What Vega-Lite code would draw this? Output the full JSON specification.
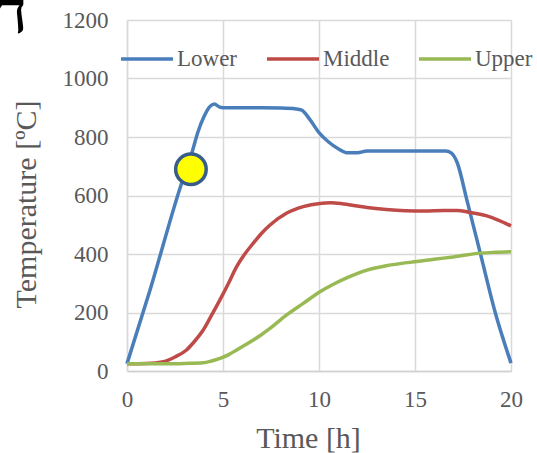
{
  "$schema": "https://vega.github.io/schema/vega-lite/v6.json",
  "width": 384,
  "height": 351,
  "autosize": {"type": "none"},
  "padding": {"left": 127, "top": 20, "right": 26, "bottom": 82},
  "background": "white",
  "title": {"text": "ח", "anchor": "start", "frame": "group", "orient": "top", "font": "Liberation Serif", "fontSize": 66, "fontWeight": "bold", "color": "black", "dx": -138, "dy": 90, "offset": 0, "baseline": "alphabetic"},
  "config": {
    "view": {"stroke": null},
    "font": "Liberation Serif",
    "axis": {"labelFont": "Liberation Serif", "titleFont": "Liberation Serif"},
    "legend": {"labelFont": "Liberation Serif"}
  },
  "layer": [
    {
      "data": {"values": [
        {"series": "Lower", "time": 0, "temp": 25},
        {"series": "Lower", "time": 1.2, "temp": 277},
        {"series": "Lower", "time": 2.76, "temp": 625},
        {"series": "Lower", "time": 3.37, "temp": 744},
        {"series": "Lower", "time": 3.7, "temp": 818},
        {"series": "Lower", "time": 4.0, "temp": 868},
        {"series": "Lower", "time": 4.3, "temp": 903},
        {"series": "Lower", "time": 4.55, "temp": 913},
        {"series": "Lower", "time": 4.8, "temp": 903},
        {"series": "Lower", "time": 5, "temp": 900},
        {"series": "Lower", "time": 6, "temp": 900},
        {"series": "Lower", "time": 7, "temp": 900},
        {"series": "Lower", "time": 8, "temp": 899},
        {"series": "Lower", "time": 8.8, "temp": 896},
        {"series": "Lower", "time": 9.1, "temp": 892},
        {"series": "Lower", "time": 9.5, "temp": 862},
        {"series": "Lower", "time": 10, "temp": 815},
        {"series": "Lower", "time": 10.5, "temp": 783},
        {"series": "Lower", "time": 11, "temp": 760},
        {"series": "Lower", "time": 11.5, "temp": 746},
        {"series": "Lower", "time": 12, "temp": 746},
        {"series": "Lower", "time": 12.5, "temp": 752},
        {"series": "Lower", "time": 13, "temp": 752},
        {"series": "Lower", "time": 14, "temp": 752},
        {"series": "Lower", "time": 15, "temp": 752},
        {"series": "Lower", "time": 16, "temp": 752},
        {"series": "Lower", "time": 16.6, "temp": 752},
        {"series": "Lower", "time": 16.9, "temp": 745},
        {"series": "Lower", "time": 17.2, "temp": 712},
        {"series": "Lower", "time": 17.7, "temp": 585},
        {"series": "Lower", "time": 18.4, "temp": 403},
        {"series": "Lower", "time": 19.2, "temp": 195},
        {"series": "Lower", "time": 20, "temp": 27},
        {"series": "Middle", "time": 0, "temp": 25},
        {"series": "Middle", "time": 1, "temp": 26},
        {"series": "Middle", "time": 1.9, "temp": 32},
        {"series": "Middle", "time": 2.5, "temp": 48},
        {"series": "Middle", "time": 3.1, "temp": 72},
        {"series": "Middle", "time": 3.5, "temp": 100},
        {"series": "Middle", "time": 3.97, "temp": 140},
        {"series": "Middle", "time": 4.4, "temp": 190},
        {"series": "Middle", "time": 4.84, "temp": 243},
        {"series": "Middle", "time": 5.3, "temp": 302},
        {"series": "Middle", "time": 5.71, "temp": 357},
        {"series": "Middle", "time": 6.1, "temp": 397},
        {"series": "Middle", "time": 6.58, "temp": 437},
        {"series": "Middle", "time": 7, "temp": 470},
        {"series": "Middle", "time": 7.45, "temp": 499},
        {"series": "Middle", "time": 8.3, "temp": 539},
        {"series": "Middle", "time": 9.18, "temp": 562},
        {"series": "Middle", "time": 10.05, "temp": 573},
        {"series": "Middle", "time": 10.6, "temp": 575},
        {"series": "Middle", "time": 11.2, "temp": 572},
        {"series": "Middle", "time": 12, "temp": 564},
        {"series": "Middle", "time": 12.5, "temp": 559},
        {"series": "Middle", "time": 13.5, "temp": 552},
        {"series": "Middle", "time": 14.5, "temp": 548},
        {"series": "Middle", "time": 15.5, "temp": 547},
        {"series": "Middle", "time": 16.5, "temp": 549},
        {"series": "Middle", "time": 17.2, "temp": 549},
        {"series": "Middle", "time": 17.8, "temp": 543},
        {"series": "Middle", "time": 18.7, "temp": 531},
        {"series": "Middle", "time": 19.3, "temp": 517},
        {"series": "Middle", "time": 20, "temp": 496},
        {"series": "Upper", "time": 0, "temp": 25},
        {"series": "Upper", "time": 1, "temp": 25},
        {"series": "Upper", "time": 2, "temp": 25},
        {"series": "Upper", "time": 3, "temp": 26},
        {"series": "Upper", "time": 3.97, "temp": 28},
        {"series": "Upper", "time": 4.4, "temp": 34},
        {"series": "Upper", "time": 4.84, "temp": 43},
        {"series": "Upper", "time": 5.3, "temp": 56},
        {"series": "Upper", "time": 5.71, "temp": 72},
        {"series": "Upper", "time": 6.1, "temp": 87},
        {"series": "Upper", "time": 6.58, "temp": 106},
        {"series": "Upper", "time": 7, "temp": 124},
        {"series": "Upper", "time": 7.45, "temp": 146},
        {"series": "Upper", "time": 8.3, "temp": 191},
        {"series": "Upper", "time": 9.18, "temp": 231},
        {"series": "Upper", "time": 10.05, "temp": 271},
        {"series": "Upper", "time": 10.7, "temp": 295},
        {"series": "Upper", "time": 11.5, "temp": 320},
        {"series": "Upper", "time": 12.5, "temp": 345},
        {"series": "Upper", "time": 13.5, "temp": 360},
        {"series": "Upper", "time": 14.3, "temp": 368},
        {"series": "Upper", "time": 15.1, "temp": 374},
        {"series": "Upper", "time": 16, "temp": 382},
        {"series": "Upper", "time": 17, "temp": 390},
        {"series": "Upper", "time": 18.4, "temp": 403},
        {"series": "Upper", "time": 19.2, "temp": 406},
        {"series": "Upper", "time": 20, "temp": 408}
      ]},
      "mark": {"type": "line", "interpolate": "monotone", "strokeWidth": 3.5},
      "encoding": {
        "x": {"field": "time", "type": "quantitative", "scale": {"domain": [0, 20], "nice": false},
          "axis": {"values": [0, 5, 10, 15, 20], "format": "d", "grid": true, "gridColor": "#D9D9D9", "gridWidth": 1.5, "ticks": false, "domainColor": "#D0D0D0", "domainWidth": 1.5, "labelFont": "Liberation Serif", "labelFontSize": 23, "labelColor": "#595959", "labelPadding": 17, "labelFlush": false, "title": "Time [h]", "titleFont": "Liberation Serif", "titleFontSize": 30, "titleFontWeight": "normal", "titleColor": "#595959", "titleX": 181, "titleY": 76, "titleBaseline": "alphabetic", "titleAlign": "center"}},
        "y": {"field": "temp", "type": "quantitative", "scale": {"domain": [0, 1200], "nice": false},
          "axis": {"values": [0, 200, 400, 600, 800, 1000, 1200], "format": "d", "grid": true, "gridColor": "#D9D9D9", "gridWidth": 1.5, "ticks": false, "domainColor": "#D9D9D9", "domainWidth": 1.5, "labelFont": "Liberation Serif", "labelFontSize": 23, "labelColor": "#595959", "labelPadding": 19, "title": "Temperature [ºC]", "titleFont": "Liberation Serif", "titleFontSize": 30, "titleFontWeight": "normal", "titleColor": "#595959", "titleX": -92, "titleY": 184, "titleAngle": -90, "titleBaseline": "alphabetic", "titleAlign": "center"}},
        "color": {"field": "series", "type": "nominal",
          "scale": {"domain": ["Lower", "Middle", "Upper"], "range": ["#4A7EBB", "#BE4B48", "#98B954"]},
          "legend": {"orient": "none", "legendX": -8, "legendY": 11, "direction": "horizontal", "title": null, "symbolType": "stroke", "symbolSize": 2704, "symbolStrokeWidth": 3.5, "labelFont": "Liberation Serif", "labelFontSize": 23, "labelColor": "#595959", "labelOffset": 2, "columnPadding": 22, "padding": 0}}
      }
    },
    {
      "data": {"values": [{"time": 3.33, "temp": 690}]},
      "mark": {"type": "circle", "fill": "#FFFF00", "stroke": "#385D8A", "strokeWidth": 3.5, "size": 930, "opacity": 1},
      "encoding": {
        "x": {"field": "time", "type": "quantitative"},
        "y": {"field": "temp", "type": "quantitative"}
      }
    }
  ]
}
